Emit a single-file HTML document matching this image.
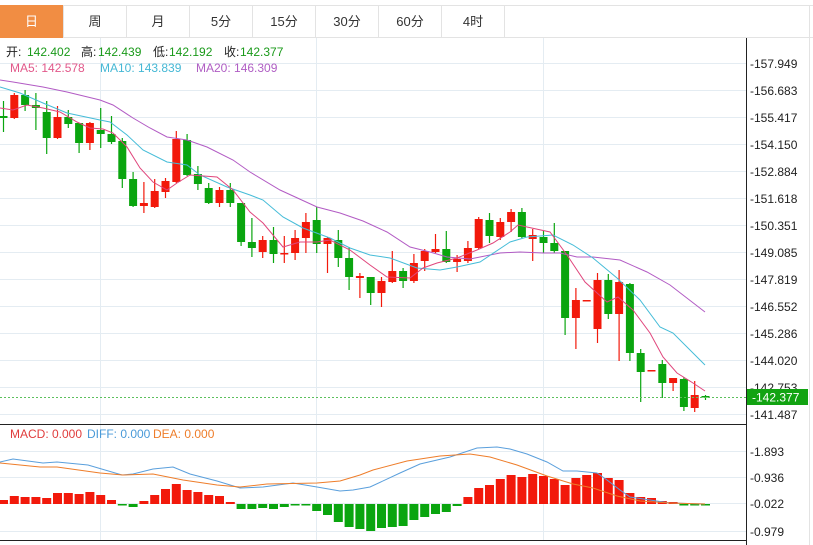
<!DOCTYPE html>
<html><head><meta charset="utf-8"><style>
body{margin:0;background:#fff;width:813px;height:545px;overflow:hidden;font-family:"Liberation Sans","Noto Sans CJK SC",sans-serif}
svg{position:absolute;left:0;top:0}
</style></head><body>
<svg id="s" width="813" height="545" xmlns="http://www.w3.org/2000/svg" font-family="Liberation Sans, Noto Sans CJK SC, sans-serif">
<rect x="0" y="0" width="813" height="545" fill="#fff"/>
<line x1="0" y1="5.5" x2="813" y2="5.5" stroke="#e3e3e3"/>
<line x1="0" y1="37.5" x2="813" y2="37.5" stroke="#e3e3e3"/>
<rect x="0" y="5" width="63" height="33" fill="#f18d43"/>
<g stroke="#e3e3e3"><line x1="63.5" y1="5" x2="63.5" y2="38"/><line x1="126.5" y1="5" x2="126.5" y2="38"/><line x1="189.5" y1="5" x2="189.5" y2="38"/><line x1="252.5" y1="5" x2="252.5" y2="38"/><line x1="315.5" y1="5" x2="315.5" y2="38"/><line x1="378.5" y1="5" x2="378.5" y2="38"/><line x1="441.5" y1="5" x2="441.5" y2="38"/><line x1="504.5" y1="5" x2="504.5" y2="38"/><line x1="809.5" y1="5" x2="809.5" y2="545"/></g>
<g font-size="13" text-anchor="middle" fill="#333">
<text x="31.5" y="26" fill="#fff">日</text><text x="95" y="26">周</text><text x="158" y="26">月</text><text x="221" y="26">5分</text><text x="284" y="26">15分</text><text x="347" y="26">30分</text><text x="410" y="26">60分</text><text x="473" y="26">4时</text>
</g>
<g id="grid" stroke="#e4ecf2" stroke-width="1"></g>
<g id="cand"></g>
<g id="ma" fill="none" stroke-width="1"></g>
<line x1="0" y1="397.5" x2="746" y2="397.5" stroke="#5cc05c" stroke-dasharray="2,2"/>
<line x1="746.5" y1="38" x2="746.5" y2="545" stroke="#222"/>
<line x1="0" y1="424.5" x2="746" y2="424.5" stroke="#222"/>
<line x1="0" y1="540.5" x2="746" y2="540.5" stroke="#222"/>
<g id="lab" font-size="12" fill="#222"></g>
<rect x="747" y="389" width="61" height="16" fill="#12a312"/>
<text x="752" y="401.5" font-size="12" fill="#fff">-142.377</text>
<g font-size="12">
<text x="6" y="56" fill="#222">开:</text><text x="27" y="56" fill="#1a9a1a">142.402</text>
<text x="81" y="56" fill="#222">高:</text><text x="98" y="56" fill="#1a9a1a">142.439</text>
<text x="153" y="56" fill="#222">低:</text><text x="169" y="56" fill="#1a9a1a">142.192</text>
<text x="224" y="56" fill="#222">收:</text><text x="240" y="56" fill="#1a9a1a">142.377</text>
<text x="10" y="72" fill="#e2588a">MA5: 142.578</text>
<text x="100" y="72" fill="#45b8d5">MA10: 143.839</text>
<text x="196" y="72" fill="#b05ec4">MA20: 146.309</text>
<text x="10" y="438" fill="#e03c3c">MACD: 0.000</text>
<text x="87" y="438" fill="#4a9ad8">DIFF: 0.000</text>
<text x="153" y="438" fill="#ee7d2a">DEA: 0.000</text>
</g>
</svg>
<script>
const NS="http://www.w3.org/2000/svg";
function el(p,t,a){const e=document.createElementNS(NS,t);for(const k in a)e.setAttribute(k,a[k]);document.getElementById(p).appendChild(e);return e;}
const gy=[63.5,90.5,117.5,144.5,171.5,198.5,225.5,252.5,279.5,306.5,333.5,360.5,387.5,414.5];
gy.forEach(y=>el('grid','line',{x1:0,y1:y,x2:746,y2:y}));
[451.5,477.5,503.5,531.5].forEach(y=>el('grid','line',{x1:0,y1:y,x2:746,y2:y}));
[100.5,316.5,543.5].forEach(x=>el('grid','line',{x1:x,y1:38,x2:x,y2:540}));
const lbl=["157.949","156.683","155.417","154.150","152.884","151.618","150.351","149.085","147.819","146.552","145.286","144.020","142.753","141.487"];
lbl.forEach((t,i)=>{const e=el('lab','text',{x:750,y:gy[i]+4.5});e.textContent="-"+t;});
[["-1.893",451.5],["-0.936",477.5],["-0.022",503.5],["-0.979",531.5]].forEach(a=>{const e=el('lab','text',{x:750,y:a[1]+4.5});e.textContent=a[0];});
const C=[
['g',116,118,101,132],['r',95,118,93,119],['g',95,105,90,111],['g',105,108,93,130],['g',112,138,101,154],
['r',117,138,106,139],['g',117,124,110,128],['g',123,143,123,153],['r',123,143,122,150],['g',130,134,108,148],
['g',134,142,116,144],['g',141,179,138,188],['g',179,206,172,207],['r',203,206,182,213],['r',191,207,179,208],
['r',181,192,178,198],['r',139,182,131,183],['g',140,175,134,176],['g',174,184,166,190],['g',188,203,183,204],
['r',190,203,187,207],['g',190,203,183,207],['g',203,242,203,246],['g',242,248,218,257],['r',240,252,236,258],
['g',240,254,227,263],['r',253,254,236,263],['r',238,253,230,260],['r',222,238,213,253],['g',220,244,207,253],
['r',238,244,237,273],['g',240,258,230,267],['g',258,277,247,290],['r',276,278,273,298],['g',277,293,277,305],
['r',281,293,277,307],['r',271,282,251,283],['g',271,281,268,288],['r',263,281,254,283],['r',251,261,249,271],
['r',249,252,234,253],['g',249,262,231,263],['r',259,262,255,272],['r',248,261,241,263],['r',219,248,217,249],
['g',220,236,213,243],['r',222,237,218,240],['r',212,222,209,232],['g',212,237,208,238],['r',235,239,229,261],
['g',237,243,231,253],['g',243,251,223,253],['g',251,318,251,335],['r',300,318,288,349],['r',300,301,300,301],
['r',280,329,273,343],['g',280,314,274,319],['r',282,314,270,361],['g',284,353,283,361],['g',353,372,349,402],
['r',370,371,370,371],['g',364,383,360,398],['r',378,383,378,391],['g',379,407,377,411],['r',395,408,381,412],
['g',396,397,395,400]];
const RED="#f2190b",GRN="#0aa50f";
const X=i=>3.5+10.8*i;
C.forEach((c,i)=>{const x=X(i),col=c[0]=='r'?RED:GRN;
 el('cand','line',{x1:x,y1:c[3],x2:x,y2:c[4],stroke:col,'stroke-width':1.2});
 el('cand','rect',{x:x-4,y:c[1],width:8,height:Math.max(1.5,c[2]-c[1]),fill:col});});
const H=[500,496,497,497,498,493,493,494,492,495,500,505,507,501,495,489,484,490,492,495,496,502,509,509,508,509,507,505,505,511,515,522,527,529,531,528,527,526,520,517,514,512,506,497,488,485,479,475,477,474,476,479,485,478,475,473,478,480,493,497,498,501,502,505,504,504];
const Z=504;
H.forEach((v,i)=>{const x=X(i);let h=Math.abs(v-Z);if(h<1.5)h=1.5;
 el('cand','rect',{x:x-4.5,y:(v<Z?v:Z),width:9,height:h,fill:v<Z?RED:GRN});});
function pl(pts,col){el('ma','polyline',{points:pts.map(p=>p.join(',')).join(' '),stroke:col});}
pl([[0,80],[13,82],[43,87],[67,92],[100,100],[113,105],[133,118],[150,128],[167,137],[187,140],[207,147],[233,160],[250,172],[280,190],[317,207],[340,213],[363,221],[387,232],[410,247],[430,252],[447,257],[470,259],[480,257],[500,253],[520,252],[543,253],[560,253],[577,257],[593,257],[620,260],[647,272],[670,285],[705,312]],"#b25bc4");
pl([[0,87],[20,93],[43,103],[67,113],[100,120],[110,122],[127,135],[143,150],[167,162],[187,165],[200,175],[227,187],[250,195],[263,200],[283,217],[303,228],[330,238],[350,248],[370,255],[390,258],[417,268],[440,270],[457,267],[480,262],[510,242],[527,237],[553,235],[573,245],[593,258],[617,278],[640,300],[660,327],[673,333],[705,365]],"#45bcd8");
pl([[0,108],[13,110],[27,105],[43,108],[60,112],[77,122],[90,128],[103,129],[113,133],[127,147],[140,168],[153,182],[167,190],[177,183],[190,175],[217,177],[233,190],[250,212],[263,223],[283,247],[300,242],[317,242],[330,240],[350,250],[370,265],[387,277],[410,278],[423,268],[437,263],[457,258],[477,250],[493,243],[510,232],[518,225],[527,227],[550,232],[567,255],[585,282],[607,302],[618,297],[633,310],[650,333],[663,357],[677,373],[693,383],[705,391]],"#e0467c");
pl([[0,462],[13,459],[43,463],[57,462],[88,465],[122,475],[133,474],[153,469],[173,467],[190,474],[217,481],[240,488],[263,487],[293,483],[317,487],[340,491],[353,490],[370,487],[400,473],[420,464],[450,457],[477,448],[497,447],[510,449],[527,454],[547,462],[563,471],[577,471],[597,473],[607,480],[620,490],[630,497],[650,500],[670,503],[705,504]],"#5a9fdc");
pl([[0,463],[40,467],[57,467],[100,473],[123,475],[153,474],[183,480],[217,485],[240,487],[267,484],[317,483],[340,481],[360,475],[373,470],[407,461],[440,456],[470,454],[490,457],[517,465],[547,476],[573,484],[593,488],[617,496],[640,501],[670,503],[705,504]],"#ee7d2a");
</script>
</body></html>
